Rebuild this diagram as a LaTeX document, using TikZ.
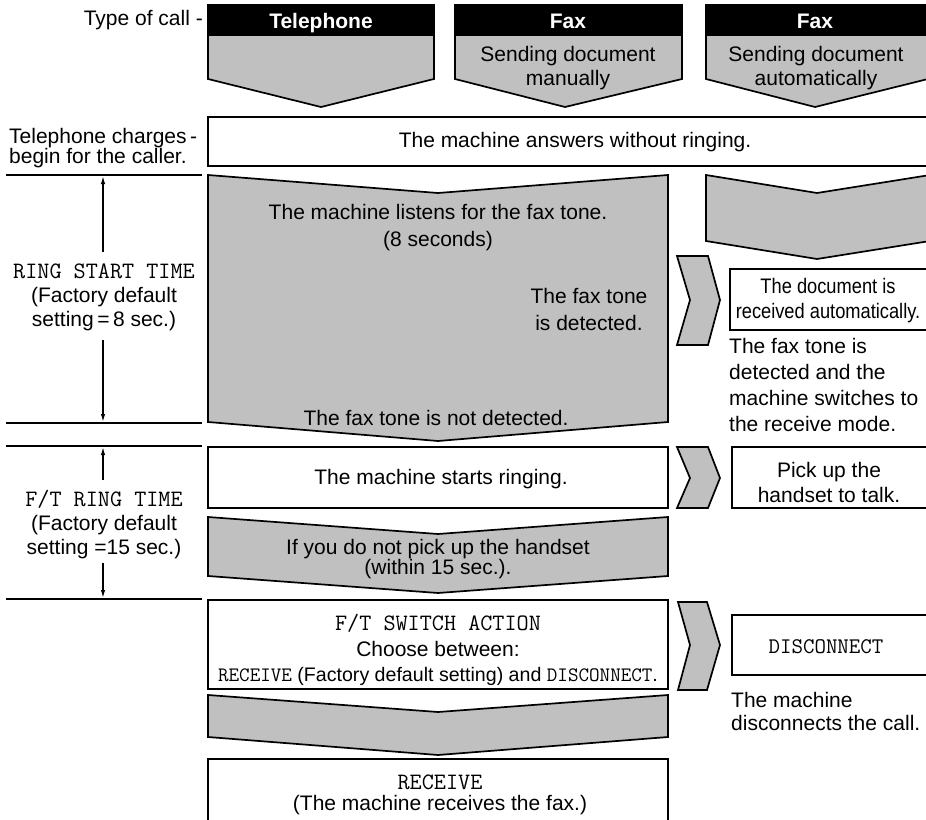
\documentclass[tikz,border=0pt]{standalone}
\usepackage{fontspec}
\setmainfont{Liberation Sans}
\newfontfamily\condfont[FakeStretch=0.87]{Liberation Sans}
\usetikzlibrary{arrows.meta}
\definecolor{chevgray}{RGB}{192,192,192}
\newcommand\fsz[2]{\fontsize{#1}{#2}\selectfont}
\newcommand\mono[1]{{\fontsize{23.5}{24}\selectfont\ttfamily #1}}
\newcommand\smono[1]{{\fontsize{20.5}{24}\selectfont\ttfamily #1}}
\newcommand\dmono[1]{{\fontsize{22.3}{24}\selectfont\ttfamily #1}}
\begin{document}
\begin{tikzpicture}[x=1pt,y=-1pt,line join=miter,
  boxline/.style={draw=black,line width=1.7pt},
  greyshape/.style={boxline,fill=chevgray},
  lbl/.style={inner sep=0pt,align=center,font=\fsz{21}{25}},
  hdr/.style={inner sep=0pt,anchor=base,text=white,font=\bfseries\fsz{21}{25}},
  sepline/.style={draw=black,line width=1.1pt},
  dimarrow/.style={draw=black,line width=1.4pt,-{Latex[length=8pt,width=4.5pt]}}]
\useasboundingbox (0,0) rectangle (926,819);
\clip (0,0) rectangle (926,819);

% ---- top: type of call chevrons
\foreach \l/\r/\t in {208/434/321, 455/682/565, 706/928/815}{
  \draw[greyshape] (\l,5) -- (\r,5) -- (\r,79) -- (\t,107) -- (\l,79) -- cycle;
  \fill[black] (\l,4.2) rectangle (\r,36);
}
\node[lbl,anchor=east] (typecall) at (203,20) {Type of call -};
\node[hdr] (telhd) at (321,28) {Telephone};
\node[hdr] (faxhdA) at (568,28) {Fax};
\node[hdr] (faxhdB) at (815,28) {Fax};
\node[lbl,font=\fsz{21}{24}] (sendman) at (568,68) {Sending document\\manually};
\node[lbl,font=\fsz{21}{24}] (sendauto) at (816,68) {Sending document\\automatically};

% ---- answers without ringing
\draw[boxline] (208,117) rectangle (935,166);
\node[lbl] (answers) at (575,142) {The machine answers without ringing.};
\node[lbl,anchor=west,align=left,font=\fsz{21}{20.5}] (charges) at (9,148)
  {Telephone charges\,-\\begin for the caller.};

% ---- left separators
\coordinate (sA1) at (6,175);   \coordinate (sA2) at (202,175);
\coordinate (sB1) at (6,423);   \coordinate (sB2) at (202,423);
\coordinate (sC1) at (6,446);   \coordinate (sC2) at (202,446);
\coordinate (sD1) at (6,599);   \coordinate (sD2) at (202,599);
\draw[sepline] (sA1) -- (sA2);
\draw[sepline] (sB1) -- (sB2);
\draw[sepline] (sC1) -- (sC2);
\draw[sepline] (sD1) -- (sD2);

% ---- ring start time
\node[lbl,font=\fsz{21}{24}] (rst) at (104,297)
  {\mono{RING START TIME}\\(Factory default\\setting\,=\,8 sec.)};
\coordinate (rstTop) at (103,176);
\coordinate (rstBot) at (103,422);
\coordinate (rstA) at (103,252);
\coordinate (rstB) at (103,340);
\draw[dimarrow] (rstA) -- (rstTop);
\draw[dimarrow] (rstB) -- (rstBot);

% ---- F/T ring time
\node[lbl,font=\fsz{21}{24}] (ftr) at (104,525)
  {\mono{F/T RING TIME}\\(Factory default\\setting =15 sec.)};
\coordinate (ftrTop) at (103,447);
\coordinate (ftrBot) at (103,598);
\coordinate (ftrA) at (103,480);
\coordinate (ftrB) at (103,563);
\draw[dimarrow] (ftrA) -- (ftrTop);
\draw[dimarrow] (ftrB) -- (ftrBot);

% ---- listening chevron
\draw[greyshape] (208,175) -- (438,193) -- (668,175) -- (668,422) -- (438,441) -- (208,422) -- cycle;
\node[lbl,font=\fsz{21}{27}] (listen) at (438,228)
  {The machine listens for the fax tone.\\(8 seconds)};
\node[lbl,font=\fsz{21}{27}] (detected) at (589,309) {The fax tone\\is detected.};
\node[lbl] (notdet) at (436,418) {The fax tone is not detected.};

% ---- automatic column chevron
\draw[greyshape] (706,175) -- (817,193) -- (930,175) -- (930,241) -- (817,259) -- (706,241) -- cycle;

% ---- right-pointing chevrons
\draw[greyshape] (677,256) -- (708,256) -- (720,300) -- (708,345) -- (677,345) -- (690,300) -- cycle;
\draw[greyshape] (677,447) -- (708,447) -- (720,478) -- (708,508) -- (677,508) -- (690,478) -- cycle;
\draw[greyshape] (678,602) -- (707,602) -- (720,645) -- (707,690) -- (678,690) -- (690,645) -- cycle;

% ---- document received automatically
\draw[boxline] (730,269) rectangle (935,330);
\node[lbl,font=\condfont\fsz{21}{25}] (docrec) at (828,301)
  {The document is\\received automatically.};
\node[lbl,anchor=west,align=left,font=\fsz{21}{25.7}] (faxdet) at (729,385)
  {The fax tone is\\detected and the\\machine switches to\\the receive mode.};

% ---- starts ringing
\draw[boxline] (208,447) rectangle (668,508);
\node[lbl] (ringing) at (441,479) {The machine starts ringing.};
\draw[boxline] (732,447) rectangle (935,508);
\node[lbl,font=\fsz{21}{25}] (pickup) at (829,482) {Pick up the\\handset to talk.};

% ---- if you do not pick up
\draw[greyshape] (208,517) -- (438,534) -- (668,517) -- (668,576) -- (438,593) -- (208,576) -- cycle;
\node[lbl,font=\fsz{21}{19.5}] (nopick) at (438,559)
  {If you do not pick up the handset\\(within 15 sec.).};

% ---- F/T switch action
\draw[boxline] (208,600) rectangle (668,689);
\node[lbl,font=\fsz{21}{25.5}] (ftsw) at (438,650)
  {\mono{F/T SWITCH ACTION}\\Choose between:\\
   {\fsz{19.6}{25.5}\smono{RECEIVE} (Factory default setting) and \smono{DISCONNECT}.}};
\draw[boxline] (732,615) rectangle (935,675);
\node[lbl] (disc) at (826,647) {\dmono{DISCONNECT}};
\node[lbl,anchor=west,align=left,font=\fsz{21}{23}] (discall) at (731,711)
  {The machine\\disconnects the call.};

% ---- final chevron and receive
\draw[greyshape] (208,695) -- (438,712) -- (668,695) -- (668,737) -- (438,755) -- (208,737) -- cycle;
\draw[boxline] (208,840) -- (208,759) -- (668,759) -- (668,840);
\node[lbl,font=\fsz{21}{21}] (recv) at (440,795)
  {\mono{RECEIVE}\\(The machine receives the fax.)};
\end{tikzpicture}
\end{document}
